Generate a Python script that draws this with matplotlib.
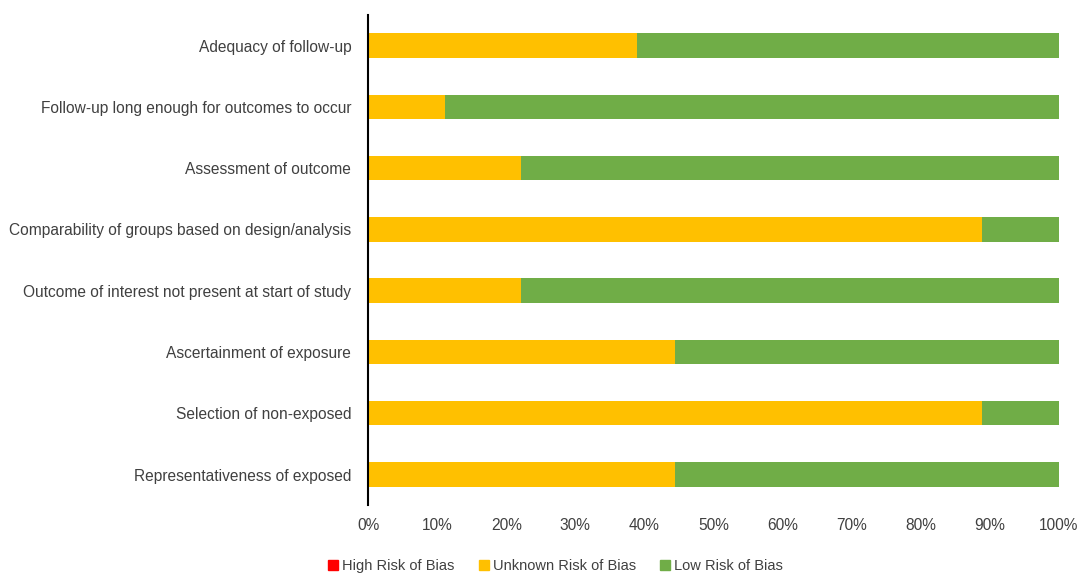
import matplotlib.pyplot as plt
from matplotlib.lines import Line2D
from matplotlib.ticker import PercentFormatter

categories = [
    "Adequacy of follow-up",
    "Follow-up long enough for outcomes to occur",
    "Assessment of outcome",
    "Comparability of groups based on design/analysis",
    "Outcome of interest not present at start of study",
    "Ascertainment of exposure",
    "Selection of non-exposed",
    "Representativeness of exposed",
]
high = [0, 0, 0, 0, 0, 0, 0, 0]
unknown = [38.9, 11.1, 22.2, 88.9, 22.2, 44.4, 88.9, 44.4]
low = [61.1, 88.9, 77.8, 11.1, 77.8, 55.6, 11.1, 55.6]
series_names = ["High Risk of Bias", "Unknown Risk of Bias", "Low Risk of Bias"]
colors = ["#FF0000", "#FFC000", "#70AD47"]

plt.rcParams['font.family'] = ['Liberation Sans', 'DejaVu Sans']

fig = plt.figure(figsize=(10.77, 5.76), dpi=100)
ax = fig.add_axes([0.3417, 0.123, 0.6416, 0.851])

y = list(range(len(categories)))
left = [0] * len(categories)
for vals, c in zip([high, unknown, low], colors):
    ax.barh(y, vals, left=left, color=c, height=0.4)
    left = [a + b for a, b in zip(left, vals)]

ax.set_yticks(y)
ax.set_yticklabels(categories)
ax.set_ylim(len(categories) - 0.5, -0.5)
ax.set_xlim(0, 100)
ax.set_xticks(range(0, 101, 10))
ax.xaxis.set_major_formatter(PercentFormatter(decimals=0))
ax.tick_params(length=0, labelsize=11.2, colors="#404040")
ax.tick_params(axis='y', pad=12)
ax.tick_params(axis='x', pad=9)
for s in ["top", "right", "bottom"]:
    ax.spines[s].set_visible(False)
ax.spines["left"].set_color("black")
ax.spines["left"].set_linewidth(1.5)

handles = [Line2D([0], [0], marker='s', linestyle='', markersize=6.5, color=c) for c in colors]
fig.legend(handles, series_names, loc="lower center", ncol=3, frameon=False,
           bbox_to_anchor=(0.514, -0.018), fontsize=10.5, handletextpad=0.0,
           handlelength=1.2, columnspacing=1.4, labelcolor="#404040")

fig.savefig("out.png", dpi=100)
